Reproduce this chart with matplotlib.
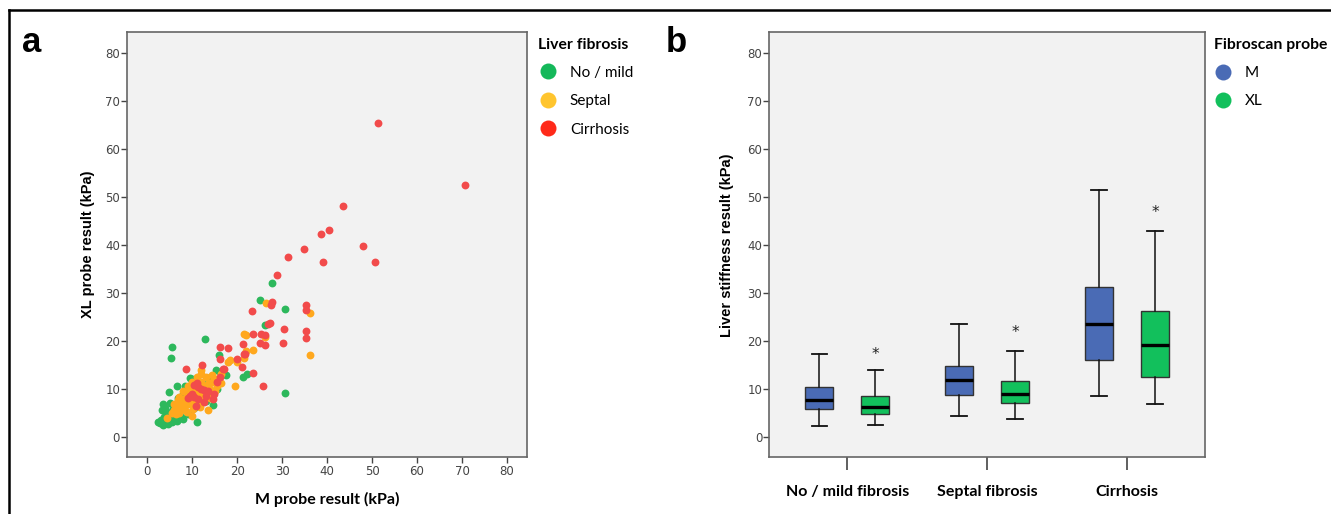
import numpy as np
import matplotlib.pyplot as plt
from matplotlib.lines import Line2D

# ---- data: panel a (M probe vs XL probe, kPa) ----
mild_x = [27.8, 25.1, 30.6, 30.7, 12.8, 5.6, 5.2, 26.3, 21.2, 22.1, 16.0, 15.3, 6.7, 4.8,
          11.1, 2.3, 3.5, 16.2, 17.5, 14.6, 15.5,
          3.0, 3.8, 4.2, 4.5, 3.6, 4.0, 5.0, 5.5, 6.0, 6.5, 7.0, 5.0, 4.3, 6.2, 7.5, 8.0,
          3.2, 9.5, 10.0, 8.5, 12.0, 13.5, 11.5, 9.0, 10.5, 14.0, 12.5, 8.0, 6.8, 5.8,
          7.8, 9.5, 11.0, 13.0, 2.8, 4.6, 5.4, 6.6]
mild_y = [32.1, 28.5, 26.6, 9.1, 20.4, 18.7, 16.4, 23.3, 12.5, 13.0, 17.0, 14.0, 10.5, 9.3,
          3.1, 3.1, 2.4, 13.5, 12.8, 6.6, 10.0,
          3.5, 4.2, 3.0, 5.2, 6.8, 6.0, 7.0, 4.0, 3.6, 4.5, 5.0, 3.3, 4.8, 6.3, 4.2, 3.8,
          5.5, 12.3, 12.0, 10.5, 8.0, 12.3, 6.5, 4.8, 6.0, 9.2, 11.0, 9.0, 8.0, 5.8,
          6.8, 7.5, 10.5, 7.5, 2.9, 2.7, 3.0, 3.4]

septal_x = [26.5, 36.2, 36.3, 21.5, 21.9, 23.5, 19.5, 17.9, 21.5, 26.3, 4.3, 9.9, 13.5,
            16.5, 18.5, 20.0, 16.5, 22.0, 15.0, 12.0,
            6.0, 6.5, 7.0, 7.5, 8.0, 8.5, 9.0, 9.5, 10.0, 10.5, 11.0, 11.5, 12.0, 12.5,
            13.0, 13.5, 14.0, 14.5, 7.0, 8.0, 9.0, 10.0, 11.0, 12.0, 13.0, 6.5, 7.5, 8.5,
            9.5, 10.5, 11.5, 12.5, 14.0, 15.0, 15.5, 8.0, 9.0, 10.0, 11.0, 12.0, 13.0,
            14.5, 6.0, 7.0, 5.5, 8.8, 10.2, 11.8, 12.2, 7.2, 8.2, 9.2, 10.8, 13.8, 6.8]
septal_y = [27.9, 25.7, 17.1, 21.5, 21.3, 18.0, 10.6, 15.6, 16.5, 20.8, 3.9, 4.3, 5.6,
            13.0, 16.0, 15.5, 11.2, 17.8, 12.0, 14.0,
            5.5, 6.5, 7.0, 6.0, 7.5, 8.0, 8.5, 9.0, 9.5, 10.0, 10.5, 11.0, 11.5, 10.0,
            10.5, 11.0, 10.0, 11.5, 5.0, 6.0, 7.0, 8.0, 9.0, 9.5, 9.0, 4.8, 5.5, 6.5,
            6.8, 7.5, 8.0, 8.5, 8.0, 9.5, 10.5, 9.5, 10.5, 11.5, 12.5, 13.0, 12.5,
            12.8, 6.8, 8.2, 5.0, 5.2, 5.8, 6.2, 7.2, 6.2, 7.0, 9.8, 11.0, 11.2, 7.6]

cirr_x = [51.4, 70.6, 43.6, 38.7, 40.4, 34.8, 48.1, 39.2, 50.6, 31.3, 28.9, 27.7, 23.4,
          35.4, 35.4, 30.4, 35.4, 35.4, 30.1, 27.3, 26.9, 23.5, 25.4, 26.3, 25.1, 26.3,
          21.2, 21.6, 16.2, 18.0, 23.6, 25.8, 20.0, 21.0, 16.2, 12.1, 8.6, 16.2, 17.0,
          21.8, 16.8, 27.5,
          9.9, 11.3, 12.6, 10.4, 9.5, 14.8, 14.6, 12.7, 11.3, 10.3, 12.0, 13.5, 11.0,
          9.0, 13.0, 15.5, 10.8]
cirr_y = [65.3, 52.4, 48.1, 42.2, 43.0, 39.1, 39.8, 36.4, 36.4, 37.5, 33.8, 28.0, 26.1,
          27.5, 26.4, 22.4, 22.1, 20.6, 19.6, 23.7, 23.4, 21.4, 21.5, 21.2, 19.6, 19.2,
          19.4, 17.3, 18.7, 18.4, 13.2, 10.6, 16.3, 14.6, 16.3, 15.0, 14.2, 12.5, 14.2,
          17.2, 14.2, 27.5,
          9.0, 10.4, 9.7, 8.3, 8.6, 9.0, 7.9, 7.2, 7.9, 10.8, 10.0, 9.5, 11.2,
          8.0, 8.5, 11.5, 6.5]

# ---- data: panel b (box plot summaries, kPa) ----
groups = ['No / mild fibrosis', 'Septal fibrosis', 'Cirrhosis']
m_lo = [2.3, 4.3, 8.6]
m_q1 = [5.8, 8.7, 16.0]
m_med = [7.7, 11.8, 23.5]
m_q3 = [10.5, 14.8, 31.2]
m_hi = [17.3, 23.5, 51.4]
xl_lo = [2.5, 3.8, 7.0]
xl_q1 = [4.9, 7.1, 12.5]
xl_med = [6.2, 9.0, 19.1]
xl_q3 = [8.6, 11.7, 26.3]
xl_hi = [13.9, 18.0, 43.0]
star_y = [17.3, 21.7, 46.7]

ticks = [0, 10, 20, 30, 40, 50, 60, 70, 80]

fig = plt.figure(figsize=(13.31, 5.14), dpi=100)
W, H = 1331, 514

bg = '#F2F2F2'
spine_c = '#666666'
tick_font = 'Liberation Sans Narrow'


def style_axes(ax):
    ax.set_facecolor(bg)
    for s in ax.spines.values():
        s.set_color(spine_c)
        s.set_linewidth(1.2)
    ax.set_ylim(-4.2, 84.3)
    ax.set_yticks(ticks)
    ax.tick_params(axis='y', length=4, width=1, color='#444444', pad=1,
                   labelsize=8.5, labelcolor='#444444')
    for lab in ax.get_yticklabels():
        lab.set_family(tick_font)


def add_legend(ax, handles, labels, title, dx):
    leg = ax.legend(handles, labels, loc='upper left', bbox_to_anchor=(1.0 + dx, 1.019),
                    frameon=False, title=title, alignment='left',
                    prop={'family': 'Lato', 'size': 11}, labelspacing=0.95,
                    handletextpad=0.85, handlelength=1.2, borderaxespad=0.5)
    leg.get_title().set_fontproperties({'family': 'Lato', 'weight': 'bold', 'size': 11.3})
    leg._legend_box.sep = 10
    return leg


# ---- panel a ----
ax1 = fig.add_axes([127 / W, (H - 457) / H, 399.7 / W, 425 / H])
style_axes(ax1)
ax1.set_xlim(-4.5, 84.4)
ax1.set_xticks(ticks)
ax1.tick_params(axis='x', length=4, width=1, color='#444444', pad=2,
                labelsize=8.5, labelcolor='#444444')
for lab in ax1.get_xticklabels():
    lab.set_family(tick_font)

ax1.scatter(mild_x, mild_y, s=32, color='#2DB85C', linewidths=0, zorder=3)
ax1.scatter(septal_x, septal_y, s=32, color='#FFA81E', linewidths=0, zorder=4)
ax1.scatter(cirr_x, cirr_y, s=32, color='#F24B4B', linewidths=0, zorder=5)

ax1.set_xlabel('M probe result (kPa)', family='Lato', weight='bold', fontsize=11.5,
               labelpad=10)
ax1.set_ylabel('XL probe result (kPa)', family='Liberation Sans', weight='bold',
               fontsize=10.5, labelpad=7)

h1 = [Line2D([], [], ls='', marker='o', ms=11.5, color=c, mec='none')
      for c in ['#14B85A', '#FFC52E', '#FF2A1A']]
add_legend(ax1, h1, ['No / mild', 'Septal', 'Cirrhosis'], 'Liver fibrosis', -0.005)

# ---- panel b ----
ax2 = fig.add_axes([769.3 / W, (H - 457.3) / H, 435.7 / W, 425 / H])
style_axes(ax2)

pos = np.arange(1, len(groups) + 1)
off = 0.2
m_stats = [dict(whislo=a, q1=b, med=c, q3=d, whishi=e, fliers=[])
           for a, b, c, d, e in zip(m_lo, m_q1, m_med, m_q3, m_hi)]
xl_stats = [dict(whislo=a, q1=b, med=c, q3=d, whishi=e, fliers=[])
            for a, b, c, d, e in zip(xl_lo, xl_q1, xl_med, xl_q3, xl_hi)]

common = dict(widths=0.2, capwidths=0.11, patch_artist=True, showfliers=False,
              medianprops=dict(color='black', lw=2.4),
              whiskerprops=dict(color='#111111', lw=1.1),
              capprops=dict(color='#111111', lw=1.3))
ax2.bxp(m_stats, positions=pos - off,
        boxprops=dict(facecolor='#4A6BB5', edgecolor='#333333', lw=1.0), **common)
ax2.bxp(xl_stats, positions=pos + off,
        boxprops=dict(facecolor='#12C05C', edgecolor='#333333', lw=1.0), **common)

for p, sy in zip(pos, star_y):
    ax2.text(p + off, sy, '*', ha='center', va='center', fontsize=11, color='#222222')

ax2.set_xlim(0.443, 3.557)
ax2.set_xticks(pos)
ax2.set_xticklabels(groups, family='Lato', weight='bold', fontsize=11.5)
ax2.tick_params(axis='x', length=9, width=1.2, color='#444444', pad=11)
ax2.set_ylabel('Liver stiffness result (kPa)', family='Liberation Sans', weight='bold',
               fontsize=10.5, labelpad=10)

h2 = [Line2D([], [], ls='', marker='o', ms=11.5, color=c, mec='none')
      for c in ['#4A6BB5', '#12C05C']]
add_legend(ax2, h2, ['M', 'XL'], 'Fibroscan probe', -0.0115)

# panel letters and outer frame
fig.text(22 / W, 1 - 52 / H, 'a', family='Liberation Sans', weight='bold', fontsize=25,
         va='baseline')
fig.text(666 / W, 1 - 52 / H, 'b', family='Liberation Sans', weight='bold', fontsize=25,
         va='baseline')
fig.add_artist(Line2D([9 / W, 1.0], [1 - 10 / H, 1 - 10 / H], color='black', lw=1.8,
                      transform=fig.transFigure))
fig.add_artist(Line2D([9 / W, 9 / W], [0.0, 1 - 10 / H], color='black', lw=1.8,
                      transform=fig.transFigure))

fig.savefig('out.png', dpi=100)
